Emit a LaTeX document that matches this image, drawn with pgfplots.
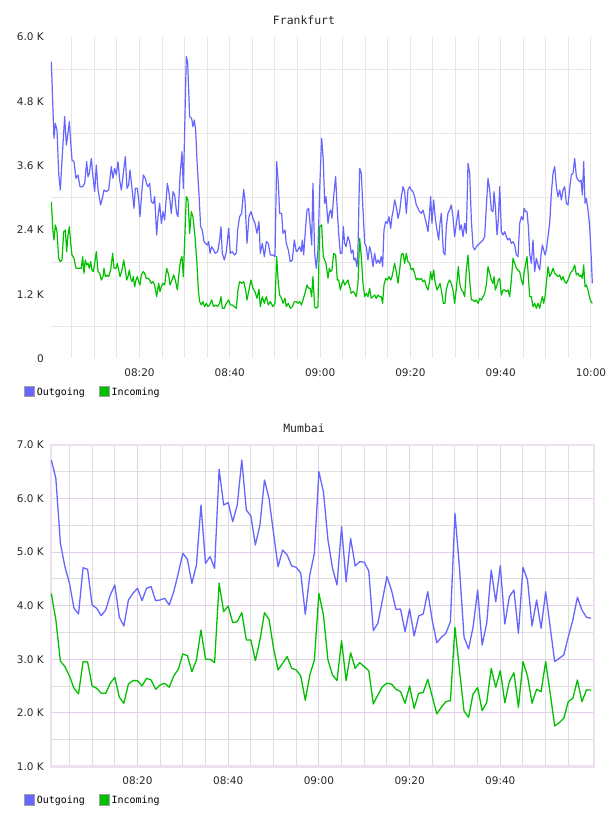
\documentclass[border=0pt]{standalone}
\usepackage{fontspec}
\setmainfont{DejaVu Sans}
\newfontfamily\monofont{DejaVu Sans Mono}
\usepackage{pgfplots}
\usepackage{pgfplotstable}
\pgfplotsset{compat=1.18}
\definecolor{outcol}{HTML}{6666FF}
\definecolor{incol}{HTML}{00C000}
\definecolor{gridgray}{HTML}{E6E6E6}
\definecolor{mgridgray}{HTML}{DEDEDE}
\definecolor{gridpink}{HTML}{E4CFE8}
\definecolor{borderpink}{HTML}{EEE0F0}

\pgfplotstableread{
t v
0.47 5539
1.06 4109
1.36 4389
1.73 4264
2.10 3456
2.47 3145
2.84 3704
3.43 4513
3.80 3984
4.16 4202
4.46 4420
5.05 3704
5.49 3673
5.94 3362
6.38 3425
6.82 3207
7.41 3207
7.86 3269
8.30 3673
8.59 3393
8.89 3456
9.33 3735
9.70 3393
10.07 3114
10.44 3611
10.81 3145
11.40 2865
11.77 2989
12.14 3145
12.65 3114
13.17 3145
13.76 3580
14.13 3362
14.50 3549
14.87 3425
15.24 3673
15.61 3331
15.98 3145
16.42 3456
16.86 3767
17.23 3176
17.60 3238
17.90 3518
18.34 3176
18.78 2803
19.08 3176
19.52 3176
19.82 2958
20.11 2647
20.48 3082
20.85 3425
21.29 3362
21.66 3238
21.88 3207
22.25 3269
22.62 2927
23.07 2896
23.36 3020
23.80 2305
24.10 2647
24.47 2896
24.84 2523
25.21 2740
25.57 2585
26.17 3269
26.61 3051
27.05 2709
27.42 3114
27.79 3051
28.23 2709
28.53 2647
28.97 3393
29.41 3860
29.71 3176
30.37 5633
30.66 5539
31.11 4513
31.55 4482
31.85 4326
32.14 4451
32.44 4264
32.73 3704
33.17 3083
33.54 2461
33.91 2398
34.28 2181
34.65 2149
35.02 2118
35.32 2181
35.61 1963
35.98 2087
36.42 2025
36.79 1963
37.31 1994
37.75 2212
38.05 2461
38.34 1963
38.79 1838
39.23 1994
39.75 2429
40.11 1963
40.56 1994
41.00 1932
41.44 1963
41.74 2398
42.18 2647
42.62 2709
43.07 3157
43.36 2958
43.81 2149
44.25 2647
44.69 2740
45.13 2616
45.58 2523
46.02 2336
46.46 2554
46.76 1963
47.20 2149
47.65 1901
48.09 2181
48.53 2149
48.97 1932
49.56 1932
50.01 1901
50.38 3673
50.75 3269
51.04 2709
51.48 2709
51.78 2336
52.22 2398
52.52 2149
52.96 2025
53.40 1807
53.85 1838
54.29 2212
54.73 1994
55.10 2025
55.47 2087
55.84 1994
56.06 2212
56.36 1932
56.80 2461
57.10 2771
57.46 2803
57.83 2461
58.13 2118
58.42 3269
58.79 1963
59.16 1683
59.53 2025
59.90 3145
60.34 4109
60.71 3704
61.01 2896
61.30 3020
61.75 2523
62.04 2709
62.34 2771
62.63 2616
63.00 3020
63.44 3393
63.81 2771
64.11 2336
64.48 1963
64.85 1963
65.14 2461
65.44 2149
65.73 2087
66.17 2274
66.54 2181
66.91 1963
67.28 2025
67.50 1838
67.80 1870
68.17 1714
68.39 2025
68.76 3549
69.13 3456
69.50 2771
69.87 2149
70.24 2087
70.60 1838
70.97 2087
71.34 1963
71.71 1714
72.08 1963
72.45 1776
72.82 1838
73.19 1776
73.56 1901
73.85 1714
74.15 2398
74.52 2554
74.89 2523
75.26 2647
75.63 2429
75.92 2647
76.22 2771
76.51 2958
76.88 2834
77.25 2616
77.62 2740
77.99 3020
78.36 3207
78.73 3114
79.10 2709
79.46 3145
79.83 3207
80.20 3145
80.57 3114
80.94 3020
81.31 2865
81.68 2803
82.05 2740
82.42 2709
82.79 2771
83.16 2647
83.53 2523
83.90 2367
84.19 2647
84.49 3020
84.78 2523
85.15 2958
85.52 2616
85.89 2398
86.26 2212
86.55 2523
86.85 2709
87.29 1994
87.66 1932
87.95 2461
88.32 2709
88.69 2771
89.06 2865
89.43 2647
89.80 2274
90.18 2523
90.62 2771
90.92 2398
91.29 2492
91.65 2274
92.02 2523
92.39 2336
92.76 3642
93.13 3456
93.50 2585
93.87 2087
94.24 2025
94.61 2087
94.98 2118
95.35 2149
95.72 2181
96.08 2212
96.45 2274
96.82 2834
97.19 3362
97.56 3145
97.93 2771
98.30 2740
98.52 3114
98.82 2834
99.19 2305
99.48 2585
99.78 3207
100.15 2367
100.51 2305
100.88 2367
101.25 2274
101.62 2212
101.99 2243
102.36 2149
102.73 2181
103.10 2118
103.47 1932
103.84 1901
104.21 2523
104.58 2647
104.95 2585
105.17 2803
105.54 2740
105.83 2740
106.13 2461
106.42 1963
106.79 1776
107.16 2212
107.53 1621
107.90 1870
108.27 1745
108.64 1652
108.93 1932
109.23 2118
109.52 2025
109.82 1932
110.11 2025
110.48 2274
110.85 2523
111.22 3083
111.59 3456
111.96 3580
112.33 3207
112.70 3020
113.07 3145
113.44 2958
113.80 3145
114.17 3207
114.54 2896
114.91 2865
115.28 3176
115.65 3425
116.02 3456
116.39 3735
116.76 3393
117.13 3331
117.50 3300
117.79 3331
118.09 3051
118.38 3673
118.68 2896
118.97 2989
119.34 2771
119.71 2461
120.01 1963
120.30 1400
}\frOut

\pgfplotstableread{
t v
0.47 2927
0.84 2367
1.06 2212
1.36 2492
1.73 2367
2.10 1870
2.47 1807
2.84 1838
3.21 2367
3.58 2398
3.87 1994
4.16 2305
4.46 2461
4.76 2149
5.05 1932
5.49 1870
5.94 1683
6.38 1683
6.82 1683
7.12 1683
7.41 1901
7.71 1590
8.00 1838
8.30 1745
8.59 1776
8.89 1683
9.18 1807
9.48 1652
9.78 1621
10.07 1776
10.44 1994
10.81 1621
11.18 1590
11.55 1465
11.92 1528
12.14 1683
12.43 1528
12.80 1559
13.17 1528
13.62 1652
14.06 1963
14.36 1683
14.80 1683
15.09 1776
15.39 1652
15.69 1528
16.13 1652
16.50 1838
16.86 1652
17.16 1465
17.45 1528
17.75 1652
18.04 1496
18.34 1434
18.64 1528
18.93 1341
19.23 1465
19.52 1528
19.82 1434
20.11 1372
20.41 1559
20.85 1621
21.14 1590
21.51 1496
21.88 1496
22.25 1465
22.62 1403
22.99 1434
23.36 1372
23.80 1154
24.25 1403
24.54 1248
24.84 1341
25.21 1403
25.57 1372
26.02 1683
26.46 1559
26.76 1372
27.20 1465
27.57 1559
27.94 1465
28.38 1279
28.82 1652
29.12 1838
29.41 1901
29.71 1528
30.37 3020
30.74 2958
31.11 2336
31.48 2740
31.85 2647
32.29 2274
32.73 1776
33.03 1279
33.32 1061
33.69 999
34.06 1061
34.43 968
34.80 1030
35.17 968
35.54 999
35.98 1092
36.42 968
36.87 999
37.31 968
37.75 1030
38.05 1154
38.34 937
38.79 937
39.23 1030
39.75 1092
40.11 999
40.56 999
41.00 968
41.44 937
41.81 1279
42.18 1434
42.62 1403
43.07 1434
43.51 1279
43.81 1092
44.25 1279
44.69 1465
45.13 1310
45.58 1248
46.02 1123
46.46 1291
46.76 968
47.20 1154
47.65 1030
48.09 1154
48.53 999
48.97 1061
49.56 968
50.01 1030
50.38 1901
50.75 1403
51.04 1185
51.48 1123
51.78 1030
52.22 1123
52.52 968
52.96 1030
53.40 937
53.85 968
54.29 1061
54.73 1061
55.10 1030
55.47 1061
55.84 999
56.21 1092
56.65 1216
57.10 1372
57.46 1310
57.83 1310
58.13 1154
58.42 1528
58.79 968
59.16 937
59.53 968
59.90 2461
60.34 2492
60.71 1901
61.01 1838
61.30 1776
61.75 1496
62.04 1683
62.34 1621
62.63 1652
63.00 1963
63.44 1932
63.81 1465
64.11 1465
64.48 1279
64.85 1403
65.14 1465
65.44 1372
65.73 1403
66.17 1465
66.54 1341
66.91 1216
67.28 1248
67.65 1216
68.02 1154
68.39 1403
68.76 2243
69.13 1901
69.50 1403
69.87 1154
70.24 1216
70.60 1154
70.97 1310
71.34 1123
71.71 1154
72.08 1185
72.45 1123
72.82 1185
73.19 1154
73.56 1154
73.85 1030
74.15 1372
74.52 1496
74.89 1465
75.26 1528
75.63 1465
75.92 1528
76.22 1652
76.51 1776
76.88 1621
77.25 1403
77.62 1652
77.99 1932
78.36 1963
78.73 1776
79.10 1963
79.46 1807
79.83 1776
80.20 1652
80.57 1683
80.94 1590
81.31 1465
81.68 1496
82.05 1465
82.42 1496
82.79 1434
83.16 1465
83.53 1341
83.90 1279
84.19 1403
84.49 1621
84.78 1465
85.15 1652
85.52 1403
85.89 1279
86.26 1341
86.55 1403
86.85 1279
87.29 1030
87.66 1030
87.95 1279
88.32 1403
88.69 1465
89.06 1403
89.43 1279
89.80 1030
90.18 1310
90.62 1714
90.92 1403
91.29 1279
91.65 1248
92.02 1154
92.39 1652
92.76 1932
93.13 1465
93.50 1092
93.87 1092
94.24 1061
94.61 1092
94.98 1030
95.35 1123
95.72 1092
96.08 1154
96.45 1216
96.82 1372
97.19 1714
97.56 1590
97.93 1465
98.30 1403
98.52 1528
98.82 1279
99.19 1372
99.48 1465
99.78 1496
100.15 1185
100.51 1279
100.88 1279
101.25 1248
101.62 1279
101.99 1154
102.36 1465
102.73 1870
103.10 1776
103.47 1683
103.84 1652
104.21 1621
104.58 1465
104.95 1372
105.17 1590
105.54 1776
105.83 1901
106.13 1528
106.42 1154
106.79 1154
107.16 968
107.53 1030
107.90 937
108.27 1030
108.64 937
108.93 1061
109.23 1154
109.52 1030
109.82 1154
110.11 1403
110.48 1714
110.85 1528
111.22 1590
111.59 1683
111.96 1590
112.33 1559
112.70 1528
113.07 1559
113.44 1465
113.80 1528
114.17 1434
114.54 1403
114.91 1465
115.28 1559
115.65 1621
116.02 1652
116.39 1745
116.76 1559
117.13 1590
117.50 1528
117.79 1559
118.09 1496
118.38 1745
118.68 1341
118.97 1372
119.34 1279
119.71 1123
120.01 1061
120.30 1030
}\frIn

\pgfplotstableread{
t out in
1 6720 4230
2 6378 3735
3 5166 2969
4 4729 2863
5 4419 2690
6 3953 2460
7 3846 2354
8 4710 2957
9 4680 2950
10 4014 2503
11 3953 2460
12 3815 2367
13 3920 2367
14 4201 2553
15 4388 2665
16 3785 2292
17 3623 2180
18 4108 2540
19 4232 2603
20 4326 2603
21 4095 2503
22 4326 2646
23 4357 2615
24 4095 2441
25 4108 2522
26 4139 2553
27 4014 2479
28 4264 2690
29 4606 2814
30 4979 3100
31 4867 3069
32 4419 2770
33 4761 2988
34 5880 3548
35 4792 3001
36 4916 3001
37 4699 2938
38 6546 4420
39 5880 3890
40 5923 3996
41 5569 3684
42 5880 3703
43 6720 3871
44 5787 3361
45 5675 3361
46 5134 2976
47 5507 3361
48 6347 3871
49 6005 3747
50 5352 3206
51 4729 2802
52 5041 2926
53 4947 3050
54 4742 2833
55 4717 2802
56 4610 2690
57 3840 2235
58 4574 2708
59 4979 2988
60 6502 4230
61 6129 3828
62 5227 2988
63 4699 2708
64 4388 2603
65 5476 3349
66 4449 2603
67 5258 3125
68 4742 2833
69 4823 2938
70 4813 2863
71 4649 2789
72 3535 2167
73 3673 2335
74 4100 2490
75 4543 2553
76 4294 2540
77 3930 2441
78 3940 2397
79 3516 2180
80 3940 2503
81 3436 2087
82 3809 2367
83 3846 2379
84 4263 2628
85 3722 2304
86 3311 1981
87 3411 2105
88 3486 2211
89 3703 2229
90 5725 3598
91 4700 2800
92 3417 2037
93 3194 1919
94 3604 2354
95 4294 2472
96 3268 2043
97 3673 2192
98 4667 2833
99 4076 2479
100 4748 2789
101 3660 2192
102 4170 2584
103 4294 2751
104 3486 2105
105 4717 2957
106 4481 2690
107 3623 2180
108 4108 2441
109 3579 2397
110 4263 2957
111 3600 2367
112 2957 1757
113 3020 1818
114 3082 1900
115 3423 2211
116 3735 2273
117 4158 2615
118 3921 2211
119 3785 2428
120 3766 2428
}\mumbai

\pgfplotsset{
  chartbase/.style={
    scale only axis,
    anchor=south west,
    height=321.5bp,
    major tick length=0pt,
    minor tick length=0pt,
    tick style={draw=none},
    ticklabel style={font=\fontsize{10.5}{12}\selectfont, text=black!85},
    yticklabel style={anchor=east, inner sep=0pt, xshift=-7bp},
    xticklabel style={anchor=center, inner sep=0pt, yshift=-14.5bp},
    legend columns=2,
    legend style={at={(0,0)}, anchor=west, xshift=-27bp,
      draw=none, fill=none, inner sep=0pt,
      font=\monofont\fontsize{10}{11}\selectfont,
      nodes={inner sep=1.8bp},
      /tikz/every even column/.append style={column sep=12bp}},
    no markers,
    clip=true,
  },
  outleg/.style={legend image code/.code={\filldraw[fill=outcol, draw=gray!75, line width=1bp] (0bp,-5bp) rectangle (10bp,5bp);}},
  inleg/.style={legend image code/.code={\filldraw[fill=incol, draw=gray!75, line width=1bp] (0bp,-5bp) rectangle (10bp,5bp);}},
}

\begin{document}
\begin{tikzpicture}
\useasboundingbox (0,0) rectangle (608bp,816bp);

% ---------------- Frankfurt ----------------
\begin{axis}[chartbase,
  at={(51bp,457.5bp)},
  width=541.8bp,
  xmin=0.4, xmax=120.4, ymin=0, ymax=6000,
  axis line style={draw=none},
  xtick={5,10,...,120},
  xticklabels={,,,08:20,,,,08:40,,,,09:00,,,,09:20,,,,09:40,,,,10:00},
  xmajorgrids=true,
  ytick={0,1200,2400,3600,4800,6000},
  yticklabels={0,1.2 K,2.4 K,3.6 K,4.8 K,6.0 K},
  extra y ticks={600,1800,3000,4200,5400},
  extra y tick labels={},
  extra y tick style={ymajorgrids=true, major tick length=0pt},
  major grid style={draw=gridgray, line width=1bp},
  legend style={yshift=-33.5bp},
]
\addplot[outcol, line width=1.2bp, line join=round, outleg] table[x=t, y=v] {\frOut};
\addlegendentry{Outgoing}
\addplot[incol, line width=1.2bp, line join=round, inleg] table[x=t, y=v] {\frIn};
\addlegendentry{Incoming}
\end{axis}
\node[font=\monofont\fontsize{11.5}{13}\selectfont, anchor=base, text=black!85] at (304bp,791bp) {Frankfurt};

% ---------------- Mumbai ----------------
\begin{axis}[chartbase,
  at={(51bp,49.5bp)},
  width=543bp,
  xmin=0.93, xmax=120.66, ymin=1000, ymax=7000,
  axis line style={draw=borderpink, line width=2bp},
  xtick={20,40,60,80,100},
  xticklabels={08:20,08:40,09:00,09:20,09:40},
  minor xtick={5,10,15,25,30,35,45,50,55,65,70,75,85,90,95,105,110,115},
  ytick={1000,2000,...,7000},
  yticklabels={1.0 K,2.0 K,3.0 K,4.0 K,5.0 K,6.0 K,7.0 K},
  minor ytick={1500,2500,...,6500},
  xmajorgrids=true, ymajorgrids=true,
  xminorgrids=true, yminorgrids=true,
  major grid style={draw=gridpink, line width=1bp},
  minor grid style={draw=mgridgray, line width=1bp},
  legend style={yshift=-33.5bp},
]
\addplot[outcol, line width=1.3bp, line join=round, outleg] table[x=t, y=out] {\mumbai};
\addlegendentry{Outgoing}
\addplot[incol, line width=1.3bp, line join=round, inleg] table[x=t, y=in] {\mumbai};
\addlegendentry{Incoming}
\end{axis}
\node[font=\monofont\fontsize{11.5}{13}\selectfont, anchor=base, text=black!85] at (304bp,383bp) {Mumbai};
\end{tikzpicture}
\end{document}
